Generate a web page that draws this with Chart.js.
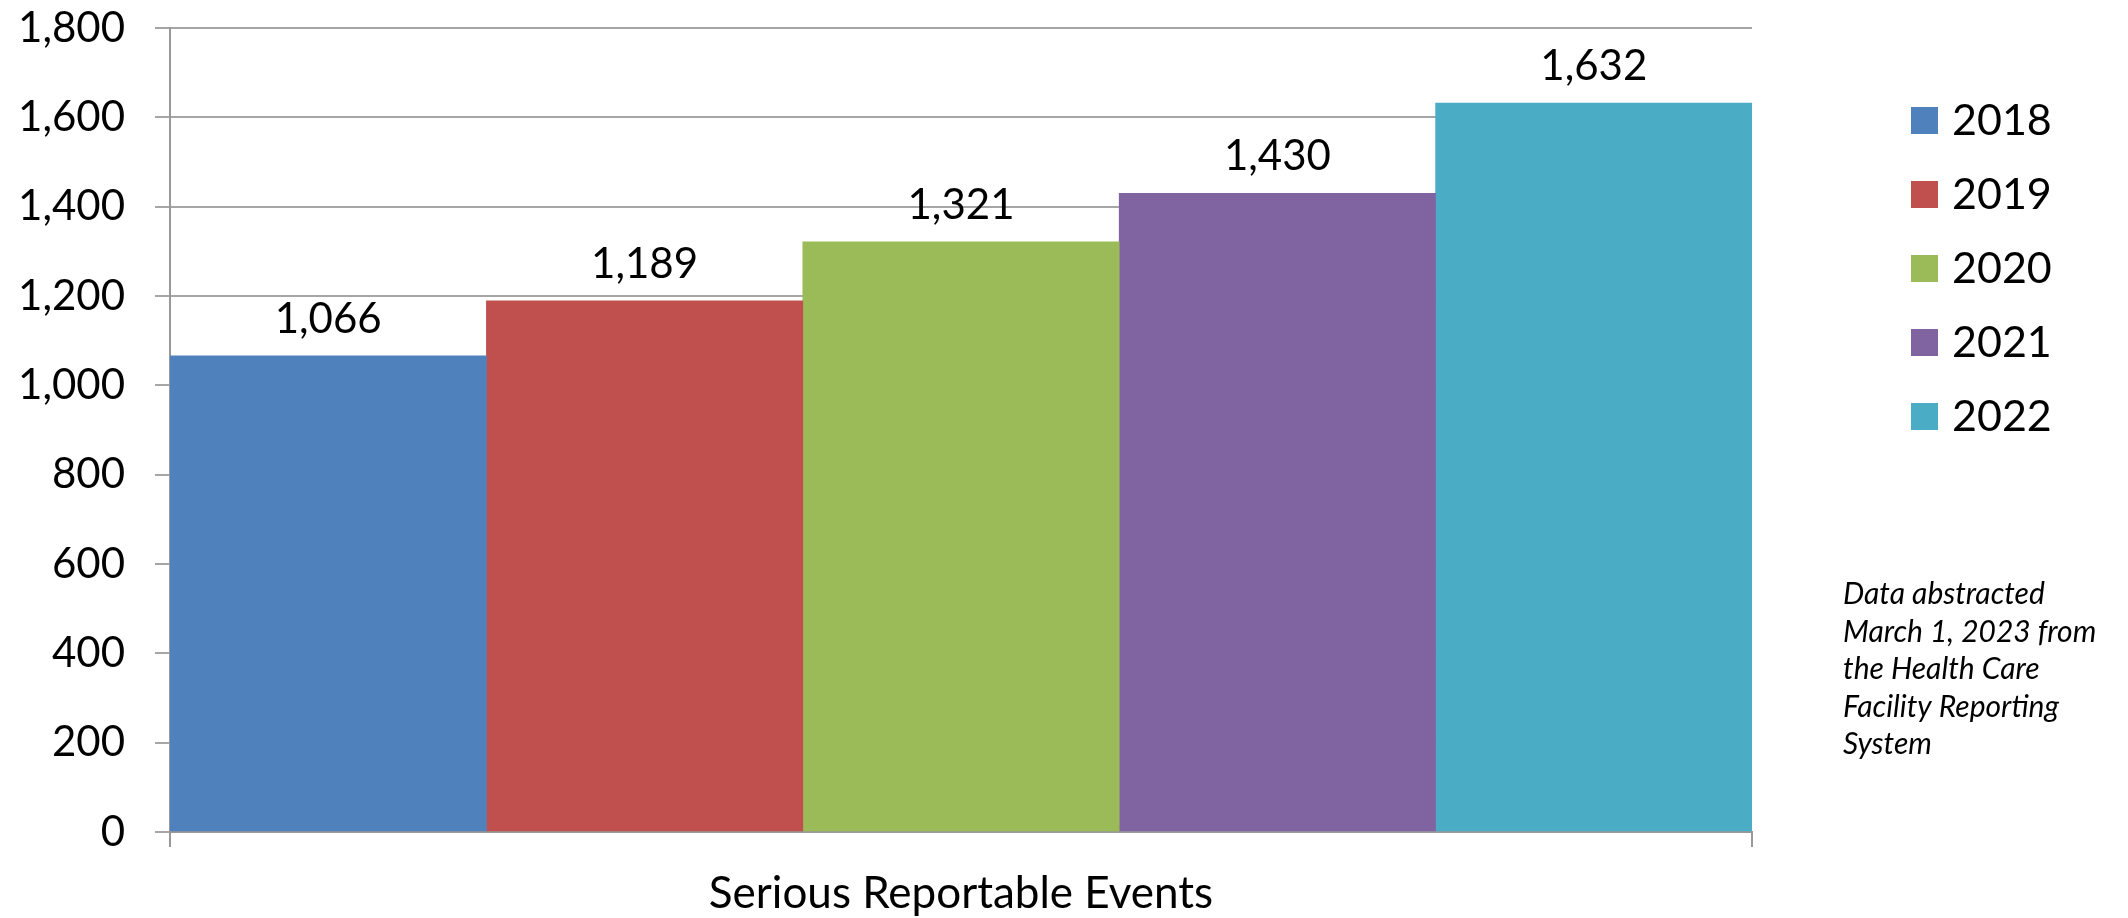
<!DOCTYPE html>
<html>
<head>
<meta charset="utf-8">
<script src="https://cdn.jsdelivr.net/npm/chart.js@4/dist/chart.umd.min.js"></script>
<style>
  html, body { margin: 0; padding: 0; background: #ffffff; }
  #wrap { width: 2128px; height: 918px; position: relative; }
</style>
</head>
<body>
<div id="wrap"><canvas id="c" width="2128" height="918"></canvas></div>
<script>
// Serious Reportable Events by year
const categories = ['Serious Reportable Events'];
const years = ['2018', '2019', '2020', '2021', '2022'];
const eventCounts = [1066, 1189, 1321, 1430, 1632];
const yearColors = ['#4F81BD', '#C0504D', '#9BBB59', '#8064A2', '#4BACC6'];
const yTickValues = [0, 200, 400, 600, 800, 1000, 1200, 1400, 1600, 1800];
const noteLines = ['Data abstracted', 'March 1, 2023 from', 'the Health Care', 'Facility Reporting', 'System'];

const FONT = 'Lato, "Open Sans", sans-serif';
const fmt = v => v.toLocaleString('en-US');

const datasets = years.map((y, i) => ({
  label: y,
  data: [eventCounts[i]],
  backgroundColor: yearColors[i],
  borderWidth: 0,
  categoryPercentage: 1.0,
  barPercentage: 1.0
}));

// value labels above each bar
const valueLabels = {
  id: 'valueLabels',
  afterDatasetsDraw(chart) {
    const ctx = chart.ctx;
    ctx.save();
    ctx.font = '42px ' + FONT;
    ctx.fillStyle = '#000';
    ctx.textAlign = 'center';
    ctx.textBaseline = 'alphabetic';
    chart.data.datasets.forEach((ds, i) => {
      const bar = chart.getDatasetMeta(i).data[0];
      ctx.fillText(fmt(ds.data[0]), bar.x, bar.y - 23);
    });
    ctx.restore();
  }
};

// legend column and source note on the right
const sideLegend = {
  id: 'sideLegend',
  afterDraw(chart) {
    const ctx = chart.ctx;
    ctx.save();
    ctx.textAlign = 'left';
    ctx.textBaseline = 'middle';
    ctx.font = '43px ' + FONT;
    chart.data.datasets.forEach((ds, i) => {
      const cy = 120 + i * 74;
      ctx.fillStyle = ds.backgroundColor;
      ctx.fillRect(1911, cy - 13, 27, 27);
      ctx.fillStyle = '#000';
      ctx.fillText(ds.label, 1952, cy + 1);
    });
    ctx.font = 'italic 30px ' + FONT;
    ctx.textBaseline = 'alphabetic';
    noteLines.forEach((line, i) => {
      ctx.fillText(line, 1843, 604 + i * 37.5);
    });
    ctx.restore();
  }
};

new Chart(document.getElementById('c'), {
  type: 'bar',
  data: { labels: categories, datasets },
  options: {
    responsive: false,
    animation: false,
    devicePixelRatio: 1,
    layout: { padding: { top: 28, right: 376, left: 0, bottom: 0 } },
    plugins: { legend: { display: false }, tooltip: { enabled: false } },
    scales: {
      x: {
        offset: true,
        grid: { display: true, offset: true, drawOnChartArea: false, drawTicks: true, tickLength: 15, color: '#999999', lineWidth: 2 },
        border: { display: true, color: '#999999', width: 2 },
        ticks: { color: '#000', font: { family: FONT, size: 44 }, padding: 20 },
        afterFit(scale) { scale.height = 86; }
      },
      y: {
        min: 0,
        max: 1800,
        afterBuildTicks(scale) { scale.ticks = yTickValues.map(v => ({ value: v })); },
        grid: { color: '#a6a6a6', lineWidth: 2, tickLength: 15, drawTicks: true },
        border: { display: true, color: '#999999', width: 2 },
        ticks: { color: '#000', font: { family: FONT, size: 42 }, padding: 30, callback: v => fmt(v) },
        afterFit(scale) {
          scale.width = 170;
          scale.paddingTop = 0;
          scale.paddingBottom = 0;
        }
      }
    }
  },
  plugins: [valueLabels, sideLegend]
});
</script>
</body>
</html>
